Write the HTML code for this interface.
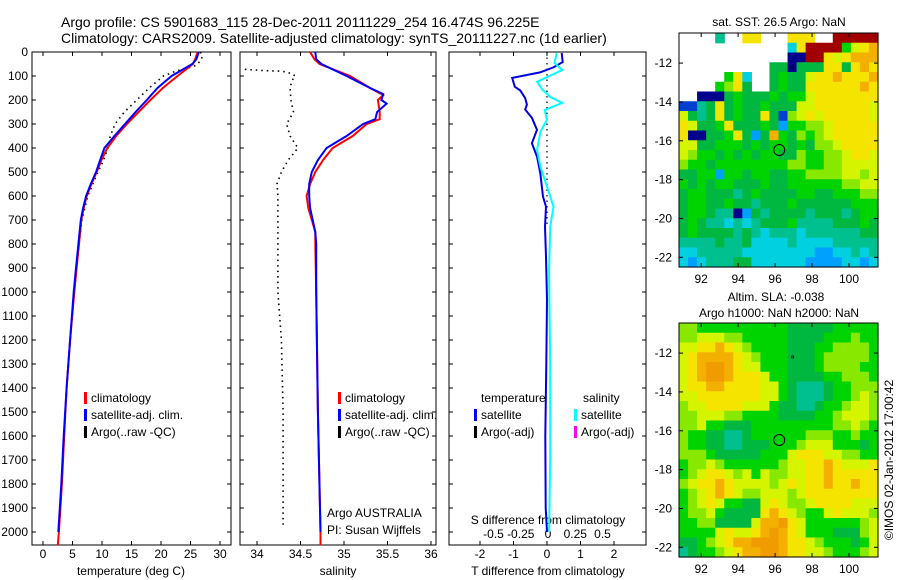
<!DOCTYPE html>
<html><head><meta charset="utf-8">
<style>
body{margin:0;background:#fff;}
svg{display:block;font-family:"Liberation Sans",sans-serif;}
text{fill:#000;}
</style></head>
<body>
<svg id="fig" width="900" height="580" viewBox="0 0 900 580">
<text x="61" y="27" font-size="14">Argo profile: CS 5901683_115 28-Dec-2011 20111229_254 16.474S 96.225E</text>
<text x="61" y="43" font-size="14">Climatology: CARS2009. Satellite-adjusted climatology: synTS_20111227.nc (1d earlier)</text>
<g id="plots"></g>
</svg>
<script>
// ---------- profile data ----------
const depthTicks=[0,100,200,300,400,500,600,700,800,900,1000,1100,1200,1300,1400,1500,1600,1700,1800,1900,2000];
const tempTicks=[0,5,10,15,20,25,30];
const salTicks=[34,34.5,35,35.5,36];
const tdiffTicks=[-2,-1,0,1,2];
const sdiffTicks=[-0.5,-0.25,0,0.25,0.5];

const tClimDepth=[0,30,50,100,150,200,250,300,350,400,450,500,550,600,650,700,800,900,1000,1200,1400,1600,1800,2000,2055];
const tClimVal=[26.2,25.8,25.4,22.8,20.3,18.2,16.2,14.2,12.4,10.9,9.9,9.1,8.2,7.4,6.9,6.5,6.1,5.7,5.3,4.6,4.0,3.6,3.2,2.7,2.5];
const tSatDepth=[0,30,50,100,150,200,250,300,350,400,450,500,550,600,650,700,800,900,1000,1200,1400,1600,1800,2000];
const tSatVal=[26.4,26.0,25.3,21.8,19.4,17.6,15.7,13.9,12.1,10.4,9.7,9.0,8.1,7.3,6.8,6.4,6.0,5.6,5.2,4.6,4.0,3.5,3.1,2.6];
const tArgoDepth=[0,20,40,60,80,100,150,200,250,300,350,400,450,500,600,700,800,1000,1200,1400,1600,1800,1970];
const tArgoVal=[26.7,27.0,26.6,25.6,22.5,20.4,18.0,15.9,13.8,12.2,11.4,11.0,10.3,9.3,7.6,6.6,6.1,5.3,4.6,4.0,3.6,3.2,2.8];

const sClimDepth=[0,30,50,100,150,180,200,250,280,300,350,400,450,500,550,600,650,700,750,800,1000,1500,2000,2055];
const sClimVal=[34.61,34.66,34.72,35.07,35.30,35.45,35.39,35.41,35.41,35.26,35.10,34.87,34.76,34.67,34.61,34.57,34.59,34.63,34.67,34.67,34.68,34.70,34.73,34.73];
const sSatDepth=[0,30,50,100,150,175,200,215,250,280,300,350,400,450,500,550,600,650,700,750,800,1000,1500,2000];
const sSatVal=[34.67,34.68,34.74,35.03,35.30,35.45,35.43,35.49,35.38,35.36,35.22,35.03,34.80,34.70,34.63,34.60,34.60,34.61,34.64,34.67,34.68,34.68,34.70,34.73];
const sArgoDepth=[72,78,80,90,100,120,150,200,250,300,350,400,450,500,550,600,800,1000,1200,1500,1970];
const sArgoVal=[33.86,34.10,34.29,34.40,34.44,34.40,34.38,34.39,34.42,34.34,34.38,34.47,34.36,34.28,34.23,34.24,34.24,34.24,34.28,34.30,34.30];

const dTDepth=[4,42,64,85,108,145,160,192,219,240,274,324,380,436,505,603,644,728,853,1033,1300,1600,1900,2000];
const dTVal=[0.44,0.47,0.19,-0.21,-1.04,-0.96,-0.80,-0.65,-0.60,-0.65,-0.45,-0.30,-0.45,-0.30,-0.20,-0.12,-0.03,-0.06,-0.03,0.0,-0.02,-0.05,-0.04,0.0];
const dSDepth=[4,46,75,124,158,187,212,242,283,332,408,478,546,644,728,917,1300,1700,2000];
const dSVal=[0.08,0.06,0.13,-0.10,-0.05,0.02,0.13,-0.03,-0.01,-0.07,-0.10,-0.07,-0.02,0.05,0.02,0.01,0.02,0.02,0.01];

// ---------- map data (colour-class grids) ----------
const mapLonTicks=[92,94,96,98,100];
const mapLatTicks=[-12,-14,-16,-18,-20,-22];
const sstRows=[
"....4..99...999..bbbbb",
"............39bbbb689a",
"............00bb989aaa",
"..........5505559959a9",
".....693..5655899a999a",
"....6795..5655999999a9",
"..00056555656689999999",
"1145956556555889999998",
"8545956559517898999998",
"9855695556526677899999",
"9005569525a65767899999",
"8855666565665657789999",
"8766565656655766778998",
"7665666666667766778888",
"5566266566556677778878",
"6565665556556666667788",
"5665554565555665566677",
"5665565545556555555666",
"5665440254555545554566",
"5654434345556444455565",
"5655554543444344444455",
"4444544533334333344444",
"3344444333333332233434",
"3234445533333322223323"];
const slaRows=[
"7766666666665555566666",
"7788877666665555666766",
"8899a98766665556677776",
"89aaaa9876665556777776",
"89acca9886665556777766",
"89acca9998665555667776",
"899aa99998865444566777",
"8899999998865444566787",
"7889999888655445667887",
"7788877666655556678887",
"7786655566666666677876",
"7665544566666677766766",
"7665544555666788866656",
"7776555556668999887766",
"6778766666678899a98889",
"6789987868778899a99999",
"7899a98888789899a99a99",
"6789a98778887899999999",
"6789866558987789999888",
"6778655559a98766898887",
"667755558aac9866666678",
"666689889aca9866655578",
"556789aaccca9987666568",
"4566789aacca9988766678"];
const argoLon=96.225, argoLat=-16.474;

const NS="http://www.w3.org/2000/svg";
const root=document.getElementById('plots');
function mk(tag,attrs,parent){const e=document.createElementNS(NS,tag);for(const k in attrs)e.setAttribute(k,attrs[k]);(parent||root).appendChild(e);return e;}
function txt(x,y,s,size,anchor,parent){const t=mk('text',{x:x,y:y,'font-size':size||12,'text-anchor':anchor||'start'},parent);t.textContent=s;return t;}

// profile panel geometry
const Y0=52, YB=545, DPX=0.24;
const yD=d=>Y0+d*DPX;
const xT=v=>43+v*5.9;
const xS=v=>257+(v-34)*87;
const xDT=v=>547+v*33.5;
const xDS=v=>548+v*109;
const panels=[[32,231],[240,436],[449,646]];

panels.forEach((p,i)=>{
  const r=mk('rect',{x:p[0],y:Y0,width:p[1]-p[0],height:YB-Y0,fill:'none',stroke:'#000','stroke-width':1});
  
  
  depthTicks.forEach(d=>{
    mk('line',{x1:p[0],x2:p[0]+4,y1:yD(d),y2:yD(d),stroke:'#000'});
    mk('line',{x1:p[1],x2:p[1]-4,y1:yD(d),y2:yD(d),stroke:'#000'});
  });
});
depthTicks.forEach(d=>{
  const t=txt(28,yD(d)+4,String(d),12,'end');
  
  
});
function xticks(ticks,f,labelY,fmt){
  ticks.forEach(v=>{
    const x=f(v);
    mk('line',{x1:x,x2:x,y1:YB,y2:YB-4,stroke:'#000'});
    mk('line',{x1:x,x2:x,y1:Y0,y2:Y0+4,stroke:'#000'});
    const t=txt(x,labelY,fmt?fmt(v):String(v),12,'middle');
    
    
  });
}
xticks(tempTicks,xT,558);
xticks(salTicks,xS,558);
xticks(tdiffTicks,xDT,558);
sdiffTicks.forEach(v=>{
  const t=txt(xDS(v),538,String(v),12,'middle');
  
  
});
let t;
t=txt(131,575,'temperature (deg C)',12,'middle');
t=txt(338,575,'salinity',12,'middle');
t=txt(548,575,'T difference from climatology',12,'middle');
t=txt(548,524,'S difference from climatology',12,'middle');

function line(ds,vs,fx,color,dotted,name,width){
  const pts=ds.map((d,i)=>fx(vs[i]).toFixed(1)+','+yD(d).toFixed(1)).join(' ');
  const a={points:pts,fill:'none',stroke:color,'stroke-width':width||2};
  if(dotted){a['stroke-dasharray']='1.5 4';a['stroke-width']=1.6;}
  const e=mk('polyline',a);
  
  
}
line(tArgoDepth,tArgoVal,xT,'#000',true,'temp-argo-line');
line(tClimDepth,tClimVal,xT,'#ff0000',false,'temp-climatology-line');
line(tSatDepth,tSatVal,xT,'#0000ff',false,'temp-satellite-line');
line(sArgoDepth,sArgoVal,xS,'#000',true,'sal-argo-line');
line(sClimDepth,sClimVal,xS,'#ff0000',false,'sal-climatology-line');
line(sSatDepth,sSatVal,xS,'#0000ff',false,'sal-satellite-line');
mk('line',{x1:xDT(0),x2:xDT(0),y1:Y0,y2:yD(730),stroke:'#000','stroke-width':1.2,'stroke-dasharray':'1.5 4'});
line(dTDepth,dTVal,xDT,'#0000e0',false,'t-diff-satellite-line');
line(dSDepth,dSVal,xDS,'#00ffff',false,'s-diff-satellite-line');

function legendEntry(x,y,color,label,name){
  mk('rect',{x:x,y:y-10,width:3,height:12,fill:color});
  const tt=txt(x+7,y,label,12);
  
  
}
legendEntry(84,402,'#ff0000','climatology','legend-climatology-1');
legendEntry(84,419,'#0000ff','satellite-adj. clim.','legend-satellite-1');
legendEntry(84,436,'#000','Argo(..raw -QC)','legend-argo-1');
legendEntry(338,402,'#ff0000','climatology','legend-climatology-2');
legendEntry(338,419,'#0000ff','satellite-adj. clim.','legend-satellite-2');
legendEntry(338,436,'#000','Argo(..raw -QC)','legend-argo-2');
t=txt(481,402,'temperature',12);
t=txt(583,402,'salinity',12);
legendEntry(474,419,'#0000ff','satellite','legend-t-satellite');
legendEntry(474,436,'#000','Argo(-adj)','legend-t-argo');
legendEntry(574,419,'#00ffff','satellite','legend-s-satellite');
legendEntry(574,436,'#ff00ff','Argo(-adj)','legend-s-argo');
t=txt(327,517,'Argo AUSTRALIA',12);
t=txt(327,534,'PI: Susan Wijffels',12);

// ---------- maps ----------
const palette={'0':'#00008c','1':'#0040d0','2':'#00a0ff','3':'#00d0e0','4':'#00c090','5':'#00b840','6':'#00d400','7':'#88e800','8':'#d4f400','9':'#f4e400','a':'#f4b000','c':'#f09c00','b':'#a00000'};
const LON0=90.8, LON1=101.57, LAT0=-10.45, LAT1=-22.5;
function drawMap(rows,top,bottom,name,title1,title2){
  const L=679,R=878;
  const xL=lon=>L+(lon-LON0)/(LON1-LON0)*(R-L);
  const yL=lat=>top+(lat-LAT0)/(LAT1-LAT0)*(bottom-top);
  const g=mk('g',{});
  
  
  const nr=rows.length;
  rows.forEach((row,ri)=>{
    const nc=row.length;
    for(let ci=0;ci<nc;ci++){
      const c=palette[row[ci]];
      if(!c)continue;
      const lon=LON0+ci*(LON1-LON0)/nc, lat=LAT0+ri*(LAT1-LAT0)/nr;
      const x=xL(lon), y=yL(lat);
      const w=(R-L)/nc, h=(bottom-top)/nr;
      mk('rect',{x:x.toFixed(2),y:y.toFixed(2),width:(w+0.6).toFixed(2),height:(h+0.6).toFixed(2),fill:c},g);
    }
  });
  mk('rect',{x:L,y:top,width:R-L,height:bottom-top,fill:'none',stroke:'#000'});
  mapLonTicks.forEach(v=>{
    const x=xL(v);
    mk('line',{x1:x,x2:x,y1:bottom,y2:bottom-4,stroke:'#000'});
    mk('line',{x1:x,x2:x,y1:top,y2:top+4,stroke:'#000'});
    const tt=txt(x,bottom+16,String(v),12,'middle');
    
    
  });
  mapLatTicks.forEach(v=>{
    const y=yL(v);
    mk('line',{x1:L,x2:L+4,y1:y,y2:y,stroke:'#000'});
    mk('line',{x1:R,x2:R-4,y1:y,y2:y,stroke:'#000'});
    const tt=txt(672,y+4,String(v),12,'end');
    
    
  });
  const c=mk('circle',{cx:xL(argoLon),cy:yL(argoLat),r:5.5,fill:'none',stroke:'#000','stroke-width':1});
  
  
  mk('rect',{x:xL(96.9),y:yL(-12.15),width:2,height:2,fill:'none',stroke:'#000','stroke-width':0.8});
}
drawMap(sstRows,33,267,'sst-map');
drawMap(slaRows,323,557,'sla-map');
t=txt(779,26,'sat. SST: 26.5 Argo: NaN',12,'middle');
t=txt(776,301,'Altim. SLA: -0.038',12,'middle');
t=txt(779,317,'Argo h1000: NaN h2000: NaN',12,'middle');
t=txt(0,0,'©IMOS 02-Jan-2012 17:00:42',12,'middle');
t.setAttribute('transform','translate(893,460) rotate(-90)');


</script>
</body></html>
